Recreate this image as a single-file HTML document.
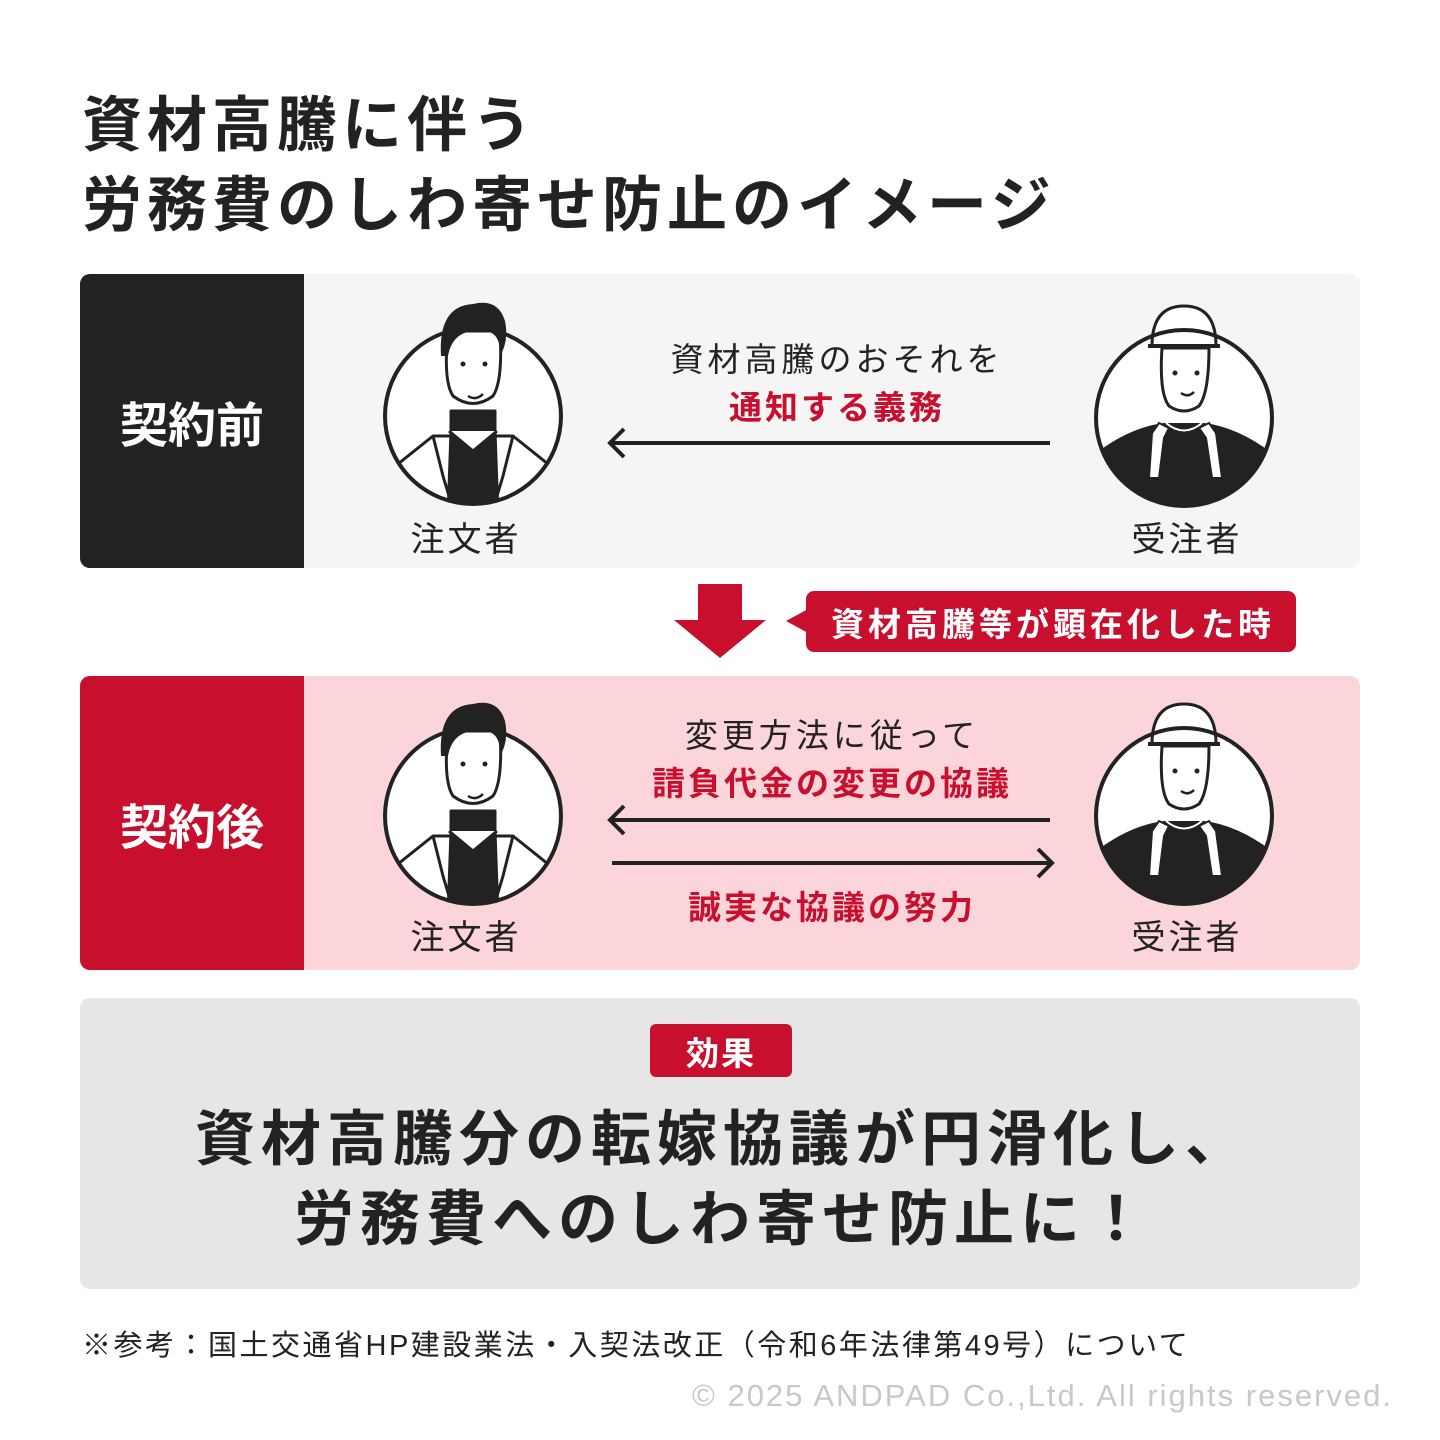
<!DOCTYPE html>
<html><head><meta charset="utf-8"><style>
*{margin:0;padding:0;box-sizing:border-box}
body{width:1440px;height:1440px;background:#fff;position:relative;overflow:hidden;font-family:"Liberation Sans","Noto Sans CJK JP",sans-serif;color:#222}
.a{position:absolute;white-space:nowrap}
.c{transform:translateX(-50%)}
.red{color:#c8102e}
</style></head><body>
<svg width="0" height="0" style="position:absolute">
<defs>
<clipPath id="cc"><circle cx="0" cy="0" r="87"/></clipPath>
<g id="client">
<circle cx="0" cy="0" r="88" fill="#fff"/>
<g clip-path="url(#cc)" stroke="#222" stroke-width="3" stroke-linejoin="round">
<path d="M-90 60 L-40 20 L40 20 L90 60 L90 100 L-90 100Z" fill="#fff"/>
<path d="M-22 -5 L-22 15 L-25 100 L25 100 L22 15 L22 -5Z" fill="#222"/>
<path d="M-24 15 L0 35 L24 15" fill="#fff"/>
<path d="M-40 20 L-30 60 L-18 100 M40 20 L30 60 L18 100" fill="none"/>
</g>
<path d="M-25 -85 Q-30 -35 -20 -20 Q0 -5 20 -20 Q30 -35 27 -85Z" fill="#fff" stroke="#222" stroke-width="3"/>
<path d="M-32 -60 Q-35 -110 0 -112 Q25 -118 32 -95 Q36 -75 27 -60 Q28 -85 10 -85 Q-20 -88 -25 -60Z" fill="#222"/>
<circle cx="-10" cy="-52" r="2.5" fill="#222"/><circle cx="12" cy="-52" r="2.5" fill="#222"/>
<path d="M-5 -20 Q3 -15 10 -22" fill="none" stroke="#222" stroke-width="2.5"/>
<circle cx="0" cy="0" r="88" fill="none" stroke="#222" stroke-width="4"/>
</g>
<g id="worker">
<circle cx="0" cy="0" r="88" fill="#fff"/>
<g clip-path="url(#cc)">
<path d="M-100 100 L-100 45 Q-60 10 -20 5 L20 5 Q60 10 100 45 L100 100Z" fill="#222"/>
<path d="M-25 5 L-32 15 L-35 60 L-25 60 L-20 20 L-15 10Z M25 5 L32 15 L38 60 L28 60 L22 20 L15 10Z" fill="#fff" stroke="#222" stroke-width="2"/>
<path d="M-18 5 Q0 20 18 5" fill="none" stroke="#fff" stroke-width="2"/>
</g>
<path d="M-22 -70 Q-25 -25 -15 -12 Q0 -2 15 -12 Q25 -25 25 -70Z" fill="#fff" stroke="#222" stroke-width="3"/>
<path d="M-32 -72 Q-32 -112 0 -112 Q32 -112 32 -72Z" fill="#fff" stroke="#222" stroke-width="3"/>
<path d="M-36 -72 H36" stroke="#222" stroke-width="4"/>
<circle cx="-9" cy="-45" r="2.5" fill="#222"/><circle cx="13" cy="-45" r="2.5" fill="#222"/>
<path d="M-3 -25 Q4 -20 10 -26" fill="none" stroke="#222" stroke-width="2.5"/>
<circle cx="0" cy="0" r="88" fill="none" stroke="#222" stroke-width="4"/>
</g>
</defs></svg>

<div class="a" style="left:82px;top:86px;font-size:60px;font-weight:bold;line-height:80px;letter-spacing:5px">資材高騰に伴う<br>労務費のしわ寄せ防止のイメージ</div>

<!-- before -->
<div class="a" style="left:80px;top:274px;width:1280px;height:294px;background:#f5f5f5;border-radius:10px;overflow:hidden">
<div style="position:absolute;left:0;top:0;width:224px;height:294px;background:#222;color:#fff;font-size:48px;font-weight:bold;display:flex;align-items:center;justify-content:center">契約前</div></div>
<svg class="a" style="left:373px;top:296px" width="200" height="220" viewBox="-100 -120 200 220"><use href="#client"/></svg>
<svg class="a" style="left:1084px;top:298px" width="200" height="220" viewBox="-100 -120 200 220"><use href="#worker"/></svg>
<div class="a c" style="left:466px;top:512px;font-size:34px;letter-spacing:3px">注文者</div>
<div class="a c" style="left:1187px;top:512px;font-size:34px;letter-spacing:3px">受注者</div>
<div class="a c" style="left:837px;top:333px;font-size:33px;letter-spacing:4px">資材高騰のおそれを</div>
<div class="a c red" style="left:837px;top:381px;font-size:33px;font-weight:bold;letter-spacing:3px">通知する義務</div>
<svg class="a" style="left:600px;top:425px" width="460" height="40"><path d="M10 18 H450" stroke="#222" stroke-width="4"/><path d="M24 4 L10 18 L24 32" fill="none" stroke="#222" stroke-width="4"/></svg>

<!-- transition -->
<svg class="a" style="left:672px;top:584px" width="96" height="76"><path d="M26 0 H70 V36 H94 L48 74 L2 36 H26Z" fill="#c8102e"/></svg>
<svg class="a" style="left:782px;top:590px" width="30" height="62"><path d="M4 31 L28 18 L28 44Z" fill="#c8102e"/></svg>
<div class="a" style="left:806px;top:591px;width:490px;height:61px;background:#c8102e;border-radius:8px;color:#fff;font-size:33px;font-weight:bold;display:flex;align-items:center;justify-content:center;letter-spacing:4px;padding-left:4px">資材高騰等が顕在化した時</div>

<!-- after -->
<div class="a" style="left:80px;top:676px;width:1280px;height:294px;background:#fcd5da;border-radius:10px;overflow:hidden">
<div style="position:absolute;left:0;top:0;width:224px;height:294px;background:#c8102e;color:#fff;font-size:48px;font-weight:bold;display:flex;align-items:center;justify-content:center">契約後</div></div>
<svg class="a" style="left:373px;top:696px" width="200" height="220" viewBox="-100 -120 200 220"><use href="#client"/></svg>
<svg class="a" style="left:1084px;top:696px" width="200" height="220" viewBox="-100 -120 200 220"><use href="#worker"/></svg>
<div class="a c" style="left:466px;top:910px;font-size:34px;letter-spacing:3px">注文者</div>
<div class="a c" style="left:1187px;top:910px;font-size:34px;letter-spacing:3px">受注者</div>
<div class="a c" style="left:832px;top:709px;font-size:33px;letter-spacing:4px">変更方法に従って</div>
<div class="a c red" style="left:832px;top:757px;font-size:33px;font-weight:bold;letter-spacing:3px">請負代金の変更の協議</div>
<svg class="a" style="left:600px;top:802px" width="460" height="40"><path d="M10 18 H450" stroke="#222" stroke-width="4"/><path d="M24 4 L10 18 L24 32" fill="none" stroke="#222" stroke-width="4"/></svg>
<svg class="a" style="left:604px;top:845px" width="460" height="40"><path d="M8 18 H448" stroke="#222" stroke-width="4"/><path d="M434 4 L448 18 L434 32" fill="none" stroke="#222" stroke-width="4"/></svg>
<div class="a c red" style="left:832px;top:881px;font-size:33px;font-weight:bold;letter-spacing:3px">誠実な協議の努力</div>

<!-- effect -->
<div class="a" style="left:80px;top:998px;width:1280px;height:291px;background:#e6e6e6;border-radius:10px"></div>
<div class="a" style="left:650px;top:1024px;width:142px;height:53px;background:#c8102e;border-radius:6px;color:#fff;font-size:33px;font-weight:bold;display:flex;align-items:center;justify-content:center;letter-spacing:2px">効果</div>
<div class="a c" style="left:723px;top:1100px;font-size:60px;font-weight:bold;line-height:80px;text-align:center;letter-spacing:6px">資材高騰分の転嫁協議が円滑化し、<br>労務費へのしわ寄せ防止に！</div>

<div class="a" style="left:82px;top:1322px;font-size:29px;letter-spacing:2.5px">※参考：国土交通省HP建設業法・入契法改正（令和6年法律第49号）について</div>
<div class="a" style="right:47px;top:1378px;font-size:31px;color:#c8c8c8;letter-spacing:2px">© 2025 ANDPAD Co.,Ltd. All rights reserved.</div>
</body></html>
